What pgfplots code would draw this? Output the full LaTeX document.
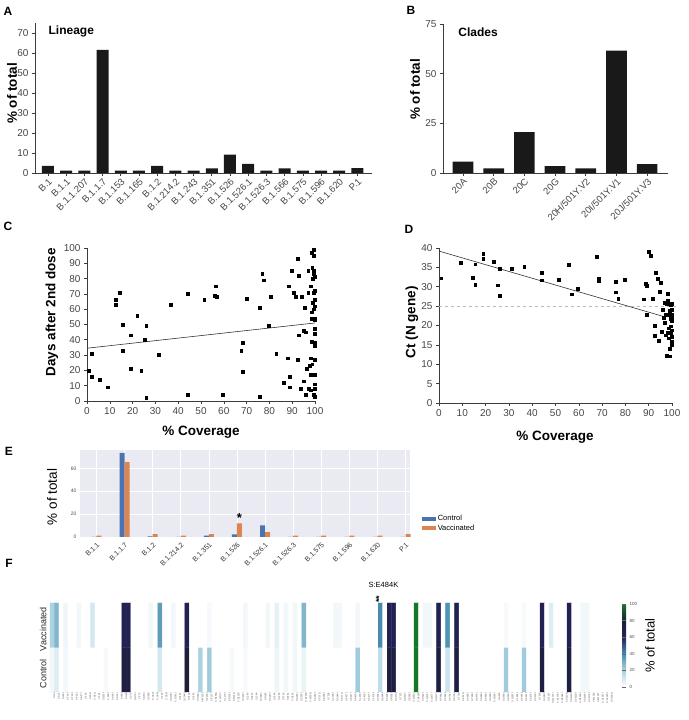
\documentclass[border=0pt]{standalone}
\usepackage{fontspec}
\setmainfont{Liberation Sans}
\usepackage{pgfplots}
\pgfplotsset{compat=1.18}
\definecolor{barblk}{RGB}{25,25,25}
\definecolor{axgray}{RGB}{60,60,60}
\definecolor{tickgray}{RGB}{70,70,70}
\definecolor{bgE}{RGB}{234,234,242}
\definecolor{sbblue}{RGB}{76,114,176}
\definecolor{sborange}{RGB}{221,132,82}
\pgfplotsset{
  colormap={hm}{rgb255(0cm)=(255,255,255) rgb255(2cm)=(170,210,225) rgb255(4cm)=(70,140,175) rgb255(6cm)=(35,35,95) rgb255(8cm)=(30,30,55) rgb255(10cm)=(20,120,40)},
  panel/.style={scale only axis, axis lines*=left, tick align=outside, tick pos=left, major tick length=3pt,
    axis line style={axgray, line width=0.7pt}, tick style={axgray, line width=0.6pt},
    ticklabel style={font=\fontsize{10}{12}\selectfont, text=tickgray},
    /pgf/number format/assume math mode=true,
    label style={font=\bfseries\fontsize{13.5}{16}\selectfont},
    ylabel style={anchor=center}, xlabel style={anchor=center}},
}
\begin{document}
\begin{tikzpicture}
\useasboundingbox (0,0) rectangle (688pt,720pt);
\tikzset{plab/.style={font=\bfseries\fontsize{12}{14}\selectfont, anchor=center}}
\node[plab] at (8pt,709pt) {A};
\node[plab] at (411pt,710pt) {B};
\node[plab] at (8pt,494pt) {C};
\node[plab] at (409pt,491pt) {D};
\node[plab] at (9pt,269pt) {E};
\node[plab] at (9pt,157pt) {F};

% ---------------- A
\begin{axis}[panel, at={(35pt,547pt)}, anchor=south west, width=337pt, height=150pt,
  xmin=-0.71, xmax=17.8, ymin=0, ymax=75, ytick={0,10,...,70},
  xtick={0,...,17},
  xticklabels={B.1,B.1.1,B.1.1.207,B.1.1.7,B.1.153,B.1.165,B.1.2,B.1.214.2,B.1.243,B.1.351,B.1.526,B.1.526.1,B.1.526.3,B.1.566,B.1.575,B.1.596,B.1.620,P.1},
  xticklabel style={rotate=45, anchor=north east, inner sep=1pt, font=\fontsize{9.5}{11}\selectfont},
  ylabel={\% of total}, ylabel style={at={(axis description cs:-0.068,0.53)}},
  ybar, bar width=12pt, clip=false]
\addplot[fill=barblk, draw=none] coordinates {(0,3.5) (1,1.2) (2,1.2) (3,61.5) (4,1.2) (5,1.2) (6,3.5) (7,1.2) (8,1.2) (9,2.3) (10,9.2) (11,4.6) (12,1.2) (13,2.3) (14,1.2) (15,1.2) (16,1.2) (17,2.4)};
\node[anchor=west, font=\bfseries\fontsize{12}{14}\selectfont] at (axis description cs:0.03,0.947) {Lineage};
\end{axis}

% ---------------- B
\begin{axis}[panel, at={(443pt,547pt)}, anchor=south west, width=225pt, height=149pt,
  xmin=-0.65, xmax=6.68, ymin=0, ymax=75, ytick={0,25,50,75},
  xtick={0,...,6},
  xticklabels={20A,20B,20C,20G,20H/501Y.V2,20I/501Y.V1,20J/501Y.V3},
  xticklabel style={rotate=45, anchor=north east, inner sep=1pt, font=\fontsize{9.5}{11}\selectfont},
  ylabel={\% of total}, ylabel style={at={(axis description cs:-0.124,0.56)}},
  ybar, bar width=20.7pt, clip=false]
\addplot[fill=barblk, draw=none] coordinates {(0,5.7) (1,2.3) (2,20.6) (3,3.4) (4,2.3) (5,61.6) (6,4.5)};
\node[anchor=west, font=\bfseries\fontsize{12}{14}\selectfont] at (axis description cs:0.053,0.946) {Clades};
\end{axis}

% ---------------- C
\begin{axis}[panel, at={(87pt,319pt)}, anchor=south west, width=228pt, height=153pt,
  xmin=0, xmax=100, ymin=0, ymax=100, xtick={0,10,...,100}, ytick={0,10,...,100},
  ylabel={Days after 2nd dose}, ylabel style={at={(axis description cs:-0.154,0.58)}},
  xlabel={\% Coverage}, xlabel style={at={(axis description cs:0.5,-0.203)}}, clip=false]
\addplot[only marks, mark=square*, mark size=1.4pt, black] coordinates {
(0.7,20)(2,31)(2,16)(5.5,14)(9,9)(12.5,66)(12.5,63)(14.5,71)(15.5,50)(15.5,33)(19,43)(19,21)(22,56)(23.8,20)(25.3,40)(26,49)(26,2)(31.4,30)(36.8,63)(44,70)(44,4)(51.4,66)(56,69)(56.6,75)(57,68)(59.6,4)(67.6,33)(68.3,38)(68.2,19)(70,67)(75.6,61)(75.6,3)(76.8,83)(77.4,79)(79.6,49)(80.6,68)(83,31)(86.4,12)(88,28)(88.6,75)(88.8,16)(89,9)(89.9,85)(90.5,71)(91.5,68)(92.3,27)(92.4,93)(92.7,82)(92.8,43)(93.9,8)(94.3,68)(94.9,13)(95.2,46)(95.6,61)(96,45)(96,4)(96.5,21)(97,85)(97,71)(97.4,8)(97.8,23)(98,28)(98,17)(98.1,7)(98.1,75)(98.5,58)(98.3,54)(98.5,39)(98.5,97)(98.8,87)(99,80)(99,64)(98.8,24)(99.3,4)(99.6,99)(99.6,95)(99.6,85)(99.7,81)(99.6,71)(99.8,66)(99.8,62)(99.8,54)(99.8,53)(99.8,47)(99.8,44)(99.8,38)(99.8,36)(99.8,27)(99.8,17)(99.8,11)(99.8,8)(99.8,3)(99.6,83)(99.6,60)(100,72)};
\addplot[black!80, line width=0.6pt] coordinates {(0,34.5) (100,51)};
\end{axis}

% ---------------- D
\begin{axis}[panel, at={(439pt,317pt)}, anchor=south west, width=233pt, height=155pt,
  xmin=0, xmax=100, ymin=0, ymax=40, xtick={0,10,...,100}, ytick={0,5,...,40},
  ylabel={Ct (N gene)}, ylabel style={at={(axis description cs:-0.116,0.52)}},
  xlabel={\% Coverage}, xlabel style={at={(axis description cs:0.498,-0.219)}}, clip=false]
\addplot[gray!55, dashed, line width=0.6pt] coordinates {(0,25) (101.5,25)};
\addplot[only marks, mark=square*, mark size=1.4pt, black] coordinates {
(0.9,32.2)(9.2,36.3)(14.6,32.3)(15.5,35.8)(15.5,30.5)(19,38.6)(19,37.3)(23.5,36.5)(25.2,30.4)(26,34.6)(26.1,27.6)(31.3,34.6)(36.6,35.2)(44.2,33.6)(44.2,31.7)(51.2,31.8)(55.8,35.7)(56.8,28.1)(59.5,29.4)(67.7,37.7)(68.4,32)(68.6,31.5)(75.8,31.3)(75.8,28.6)(76.9,26.9)(79.6,31.9)(88,26.8)(88.8,30.8)(89.1,30.3)(89,22.7)(90,39)(91,38)(91.7,26.9)(92.7,20)(92.7,17.3)(93,33.6)(93.8,32)(94.4,16.1)(94.7,28.8)(95.3,31.1)(95.7,18.4)(96.1,24.1)(96.4,22.1)(96.7,25.8)(97,20.8)(97.1,22.7)(97.3,17.5)(97.8,12.2)(97.6,25.7)(98.1,28.2)(98.3,26.5)(98.6,22.7)(98.6,19.3)(98.7,16.7)(99,14.1)(99,12.1)(99.3,25.3)(99.3,21.7)(99.4,19.8)(99.6,18)(99.7,15.8)(99.9,24)(99.9,22)(99.9,21.1)(99.9,18.8)(99.9,15)(99.9,25.7)(99.9,22.7)(99.9,17.1)(99.9,15.6)(99,23.8)(98.1,18.2)};
\addplot[black!80, line width=0.6pt] coordinates {(0,39.2) (96.5,22.3)};
\end{axis}

% ---------------- E
\begin{axis}[at={(80pt,183pt)}, anchor=south west, scale only axis, width=330pt, height=87pt,
  xmin=-0.587, xmax=11.16, ymin=0, ymax=76,
  axis background/.style={fill=bgE}, axis line style={draw=none},
  grid=major, grid style={white, line width=0.7pt}, tick style={draw=none},
  ytick={0,20,40,60}, xtick={0,...,11},
  xticklabels={B.1.1,B.1.1.7,B.1.2,B.1.214.2,B.1.351,B.1.526,B.1.526.1,B.1.526.3,B.1.575,B.1.596,B.1.620,P.1},
  /pgf/number format/assume math mode=true,
  yticklabel style={font=\fontsize{5}{6}\selectfont, text=black!70},
  xticklabel style={rotate=45, anchor=north east, inner sep=0.3pt, font=\fontsize{7}{8}\selectfont, text=black!80},
  ylabel={\% of total}, ylabel style={at={(axis description cs:-0.085,0.46)}, anchor=center, font=\fontsize{13.5}{16}\selectfont},
  ybar=0pt, bar width=5pt,
  legend style={at={(1.035,0.155)}, anchor=west, draw=none, fill=none, font=\fontsize{7.5}{9}\selectfont, row sep=-1.5pt, inner sep=0pt},
  legend cell align=left,
  legend image code/.code={\fill[#1] (0pt,-2pt) rectangle (14pt,2pt);}, clip=false]
\addplot[fill=sbblue, draw=none] coordinates {(0,0) (1,73.5) (2,0.5) (3,0) (4,1.2) (5,2.4) (6,10.2) (7,0) (8,0) (9,0) (10,0) (11,0)};
\addplot[fill=sborange, draw=none] coordinates {(0,1.2) (1,65.5) (2,2.5) (3,1.2) (4,2.5) (5,11.8) (6,4.2) (7,1.2) (8,1.2) (9,1.2) (10,1.2) (11,2.5)};
\legend{Control,Vaccinated}
\node[anchor=south, font=\bfseries\fontsize{13}{14}\selectfont, inner sep=0pt] at (axis cs:5,12.5) [xshift=2.5pt] {*};
\end{axis}

% ---------------- F
\begin{axis}[at={(50pt,28pt)}, anchor=south west, scale only axis, width=562pt, height=89pt,
  xmin=-0.5, xmax=124.5, ymin=-0.5, ymax=1.5, enlargelimits=false,
  axis line style={draw=none}, tick style={draw=none},
  xtick={0,...,124},
  xticklabels={S:L5F,S:S13I,S:L18F,S:T19R,S:T20N,S:P26S,S:A27S,S:T29I,S:F32L,S:S50L,S:T51I,S:Q52R,S:F59S,S:H66D,S:A67V,S:I68T,S:H69-,S:V70-,S:G75V,S:T76I,S:D80A,S:D80G,S:V90F,S:S94F,S:T95I,S:S98F,S:D138Y,S:G142D,S:V143-,S:Y144S,S:Y144-,S:Y145-,S:H146Y,S:W152C,S:E154K,S:F157S,S:R158G,S:Q173H,S:L176F,S:R190S,S:R214L,S:D215G,S:A222V,S:L242-,S:A243-,S:L244-,S:H245Y,S:R246I,S:S247R,S:Y248-,S:L249-,S:T250-,S:P251-,S:G252-,S:G252V,S:D253N,S:D253G,S:W258L,S:A262S,S:P272L,S:A288T,S:T299I,S:L335F,S:A348S,S:S373L,S:K417N,S:K417T,S:N439K,S:L452R,S:Y453F,S:S477N,S:T478K,S:V483A,S:E484K,S:S494P,S:N501Y,S:A570D,S:T572I,S:D574Y,S:E583D,S:Q613H,S:D614G,S:V622F,S:Q675H,S:Q677H,S:Q677P,S:P681H,S:P681R,S:A701V,S:A706S,S:T716I,S:P812L,S:A845S,S:T859N,S:A879S,S:S884F,S:A892S,S:A899S,S:Q926H,S:S929I,S:D936Y,S:D950H,S:Q957R,S:L962V,S:K964E,S:A967S,S:S975F,S:V976F,S:T978I,S:S982A,S:T1027I,S:Q1071H,S:A1078S,S:D1084Y,S:V1104L,S:D1118H,S:V1133F,S:D1146N,S:D1163Y,S:V1176F,S:M1229I,S:M1237I,S:C1247F,S:C1250F,S:V1264L},
  xticklabel style={rotate=90, anchor=east, font=\fontsize{2.4}{2.6}\selectfont, text=black!70, inner sep=0pt, yshift=-2pt},
  ytick={0,1}, yticklabels={Control,Vaccinated},
  yticklabel style={rotate=90, anchor=south, font=\fontsize{9}{11}\selectfont, text=black!85, xshift=-4pt},
  colormap name=hm, point meta min=0, point meta max=100,
  colorbar,
  colorbar style={at={(1.0178,0.989)}, anchor=north west, width=4pt, height=83pt, scale only axis,
    ytick={0,20,40,60,80,100}, yticklabels={0,20,40,60,80,100},
    yticklabel style={rotate=0, anchor=west, font=\fontsize{4.5}{5}\selectfont, text=black!70, xshift=0pt},
    ytick style={draw=black!60, line width=0.4pt}, major tick length=2pt, axis line style={draw=none},
    ylabel={\% of total}, ylabel style={at={(axis description cs:7,0.5)}, anchor=center, rotate=0, font=\fontsize{13}{15}\selectfont}},
  clip=false]
\addplot[matrix plot*, mesh/cols=125, point meta=explicit] coordinates {
(0,0)[3] (1,0)[8] (2,0)[0] (3,0)[3] (4,0)[0] (5,0)[0] (6,0)[0] (7,0)[0] (8,0)[0] (9,0)[0]
(10,0)[0] (11,0)[0] (12,0)[2] (13,0)[0] (14,0)[0] (15,0)[0] (16,0)[74] (17,0)[74] (18,0)[0] (19,0)[0]
(20,0)[0] (21,0)[0] (22,0)[0] (23,0)[0] (24,0)[10] (25,0)[0] (26,0)[0] (27,0)[0] (28,0)[0] (29,0)[0]
(30,0)[78] (31,0)[0] (32,0)[0] (33,0)[20] (34,0)[0] (35,0)[22] (36,0)[0] (37,0)[0] (38,0)[0] (39,0)[0]
(40,0)[2] (41,0)[0] (42,0)[0] (43,0)[2] (44,0)[0] (45,0)[0] (46,0)[0] (47,0)[0] (48,0)[0] (49,0)[0]
(50,0)[4] (51,0)[0] (52,0)[3] (53,0)[0] (54,0)[3] (55,0)[0] (56,0)[5] (57,0)[0] (58,0)[0] (59,0)[0]
(60,0)[0] (61,0)[0] (62,0)[0] (63,0)[0] (64,0)[0] (65,0)[0] (66,0)[0] (67,0)[0] (68,0)[22] (69,0)[0]
(70,0)[0] (71,0)[0] (72,0)[0] (73,0)[15] (74,0)[0] (75,0)[74] (76,0)[74] (77,0)[0] (78,0)[0] (79,0)[0]
(80,0)[0] (81,0)[100] (82,0)[0] (83,0)[0] (84,0)[0] (85,0)[0] (86,0)[74] (87,0)[0] (88,0)[12] (89,0)[0]
(90,0)[74] (91,0)[0] (92,0)[0] (93,0)[0] (94,0)[0] (95,0)[0] (96,0)[0] (97,0)[0] (98,0)[0] (99,0)[0]
(100,0)[0] (101,0)[22] (102,0)[0] (103,0)[0] (104,0)[0] (105,0)[22] (106,0)[0] (107,0)[0] (108,0)[0] (109,0)[74]
(110,0)[0] (111,0)[0] (112,0)[0] (113,0)[0] (114,0)[0] (115,0)[74] (116,0)[0] (117,0)[0] (118,0)[3] (119,0)[3]
(120,0)[0] (121,0)[0] (122,0)[0] (123,0)[0] (124,0)[0]
(0,1)[20] (1,1)[28] (2,1)[0] (3,1)[4] (4,1)[0] (5,1)[0] (6,1)[3] (7,1)[0] (8,1)[0] (9,1)[10]
(10,1)[0] (11,1)[0] (12,1)[0] (13,1)[0] (14,1)[0] (15,1)[0] (16,1)[66] (17,1)[66] (18,1)[0] (19,1)[0]
(20,1)[0] (21,1)[0] (22,1)[3] (23,1)[0] (24,1)[35] (25,1)[0] (26,1)[0] (27,1)[3] (28,1)[0] (29,1)[0]
(30,1)[66] (31,1)[0] (32,1)[0] (33,1)[0] (34,1)[0] (35,1)[2] (36,1)[0] (37,1)[0] (38,1)[0] (39,1)[0]
(40,1)[0] (41,1)[0] (42,1)[0] (43,1)[3] (44,1)[0] (45,1)[0] (46,1)[0] (47,1)[0] (48,1)[3] (49,1)[0]
(50,1)[6] (51,1)[0] (52,1)[3] (53,1)[0] (54,1)[3] (55,1)[0] (56,1)[28] (57,1)[0] (58,1)[0] (59,1)[0]
(60,1)[0] (61,1)[0] (62,1)[0] (63,1)[3] (64,1)[3] (65,1)[0] (66,1)[0] (67,1)[0] (68,1)[3] (69,1)[0]
(70,1)[0] (71,1)[0] (72,1)[0] (73,1)[40] (74,1)[0] (75,1)[66] (76,1)[66] (77,1)[0] (78,1)[0] (79,1)[0]
(80,1)[0] (81,1)[100] (82,1)[0] (83,1)[3] (84,1)[3] (85,1)[0] (86,1)[66] (87,1)[0] (88,1)[38] (89,1)[0]
(90,1)[66] (91,1)[0] (92,1)[0] (93,1)[0] (94,1)[0] (95,1)[0] (96,1)[0] (97,1)[0] (98,1)[0] (99,1)[0]
(100,1)[0] (101,1)[2] (102,1)[0] (103,1)[0] (104,1)[0] (105,1)[2] (106,1)[0] (107,1)[0] (108,1)[0] (109,1)[66]
(110,1)[0] (111,1)[8] (112,1)[0] (113,1)[0] (114,1)[0] (115,1)[66] (116,1)[0] (117,1)[0] (118,1)[3] (119,1)[3]
(120,1)[0] (121,1)[0] (122,1)[0] (123,1)[0] (124,1)[0]
};
\node[anchor=south, font=\fontsize{7.5}{9}\selectfont, inner sep=0pt] at (axis cs:73,1.5) [xshift=3pt, yshift=15pt] {S:E484K};
\node[anchor=west, rotate=90, font=\bfseries\fontsize{9}{10}\selectfont, inner sep=0pt] at (axis cs:73,1.5) [yshift=1.5pt] {**};
\end{axis}
\end{tikzpicture}
\end{document}
